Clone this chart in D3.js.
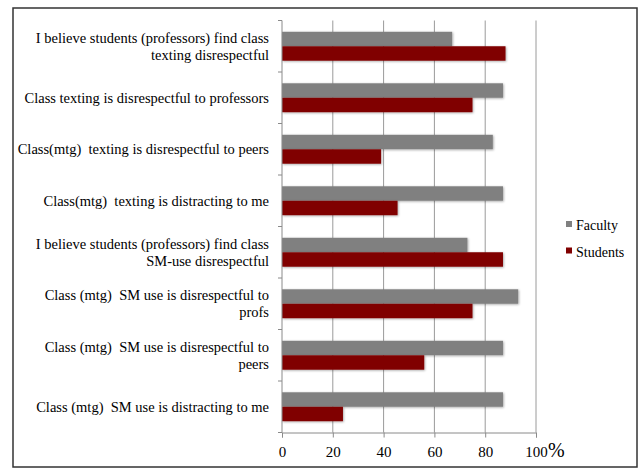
<!DOCTYPE html>
<html lang="en">
<head>
  <meta charset="UTF-8">
  <title>Class texting and SM use</title>
  <style>
    body { margin: 0; background: #fff; }
    svg text { font-family: "Liberation Serif", "Times New Roman", serif; fill: #000; white-space: pre; }
  </style>
</head>
<body>
  <svg></svg>
  <script src="https://cdn.jsdelivr.net/npm/d3@7/dist/d3.min.js"></script>
  <script>
    // categories, top to bottom (each entry = lines of the label)
    var categories = [
      ["I believe students (professors) find class", "texting disrespectful"],
      ["Class texting is disrespectful to professors"],
      ["Class(mtg)  texting is disrespectful to peers"],
      ["Class(mtg)  texting is distracting to me"],
      ["I believe students (professors) find class", "SM-use disrespectful"],
      ["Class (mtg)  SM use is disrespectful to", "profs"],
      ["Class (mtg)  SM use is disrespectful to", "peers"],
      ["Class (mtg)  SM use is distracting to me"]
    ];
    var series = ["Faculty", "Students"];
    var faculty = [67, 87, 83, 87, 73, 93, 87, 87];
    var students = [88, 75, 39, 45.5, 87, 75, 56, 24];
    var xTicks = [0, 20, 40, 60, 80, 100];

    var width = 641, height = 469;
    var margin = {top: 20.5, left: 282, right: 105, bottom: 36.5};

    var svg = d3.select("svg")
      .attr("width", width)
      .attr("height", height);

    // outer frame
    svg.append("rect")
      .attr("x", 13).attr("y", 8)
      .attr("width", 624).attr("height", 459)
      .attr("fill", "none")
      .attr("stroke", "#333")
      .attr("stroke-width", 1.5);

    var keys = categories.map(function(d, i) { return i; });

    var x = d3.scaleLinear()
      .domain([0, 100])
      .range([margin.left, 536]);

    var y0 = d3.scaleBand()
      .domain(keys)
      .range([margin.top, height - margin.bottom]);

    var y1 = d3.scaleBand()
      .domain(series)
      .range([0, y0.bandwidth()])
      .paddingOuter(0.78);

    var color = d3.scaleOrdinal()
      .domain(series)
      .range(["#808080", "#800000"]);

    // gridlines
    svg.append("g")
      .selectAll("line")
      .data(xTicks.slice(1))
      .join("line")
      .attr("x1", function(d) { return x(d); })
      .attr("x2", function(d) { return x(d); })
      .attr("y1", margin.top)
      .attr("y2", height - margin.bottom)
      .attr("stroke", "#9a9a9a")
      .attr("stroke-width", 1);

    // soft shadow like the original
    var defs = svg.append("defs");
    var f = defs.append("filter").attr("id", "sh")
      .attr("x", "-5%").attr("y", "-20%").attr("width", "110%").attr("height", "150%");
    f.append("feDropShadow")
      .attr("dx", 0.8).attr("dy", 0.8).attr("stdDeviation", 0.8)
      .attr("flood-color", "#000").attr("flood-opacity", 0.35);

    var rows = keys.map(function(i) {
      return [{s: "Faculty", v: faculty[i], i: i}, {s: "Students", v: students[i], i: i}];
    });

    svg.append("g")
      .selectAll("g")
      .data(rows)
      .join("g")
      .attr("transform", function(d, i) { return "translate(0," + y0(i) + ")"; })
      .selectAll("rect")
      .data(function(d) { return d; })
      .join("rect")
      .attr("x", x(0))
      .attr("y", function(d) { return y1(d.s); })
      .attr("width", function(d) { return x(d.v) - x(0); })
      .attr("height", y1.bandwidth())
      .attr("fill", function(d) { return color(d.s); })
      .attr("filter", "url(#sh)");

    // left axis: line + ticks at band boundaries
    var yAxis = svg.append("g");
    yAxis.append("line")
      .attr("x1", x(0)).attr("x2", x(0))
      .attr("y1", margin.top).attr("y2", height - margin.bottom)
      .attr("stroke", "#8a8a8a");
    yAxis.selectAll(".tk")
      .data(keys.concat([keys.length]))
      .join("line")
      .attr("class", "tk")
      .attr("x1", x(0) - 4).attr("x2", x(0))
      .attr("y1", function(d) { return margin.top + d * y0.step(); })
      .attr("y2", function(d) { return margin.top + d * y0.step(); })
      .attr("stroke", "#8a8a8a");

    // category labels
    var lineH = 17;
    yAxis.selectAll(".lab")
      .data(categories)
      .join("text")
      .attr("class", "lab")
      .attr("text-anchor", "end")
      .attr("font-size", "14.5px")
      .each(function(d, i) {
        var cy = y0(i) + y0.bandwidth() / 2;
        var t = d3.select(this);
        d.forEach(function(line, j) {
          t.append("tspan")
            .attr("x", 269)
            .attr("y", cy + (j - (d.length - 1) / 2) * lineH + 5)
            .text(line);
        });
      });

    // bottom axis
    var xAxis = d3.axisBottom(x)
      .tickValues(xTicks)
      .tickSize(5)
      .tickPadding(9);
    var gx = svg.append("g")
      .attr("transform", "translate(0," + (height - margin.bottom) + ")")
      .call(xAxis)
      .attr("font-family", null);
    gx.select(".domain").attr("stroke", "#8a8a8a");
    gx.selectAll(".tick line").attr("stroke", "#8a8a8a");
    gx.selectAll(".tick text")
      .attr("font-size", "15px")
      .attr("fill", "#000");

    svg.append("text")
      .attr("x", 548)
      .attr("y", 457)
      .attr("font-size", "20px")
      .text("%");

    // legend
    var legend = svg.append("g")
      .attr("transform", "translate(566, 221)");
    var li = legend.selectAll("g")
      .data(series)
      .join("g")
      .attr("transform", function(d, i) { return "translate(0," + i * 26.5 + ")"; });
    li.append("rect")
      .attr("width", 6).attr("height", 6)
      .attr("fill", function(d) { return color(d); });
    li.append("text")
      .attr("x", 10)
      .attr("y", 9)
      .attr("font-size", "14px")
      .text(function(d) { return d; });
  </script>
</body>
</html>
